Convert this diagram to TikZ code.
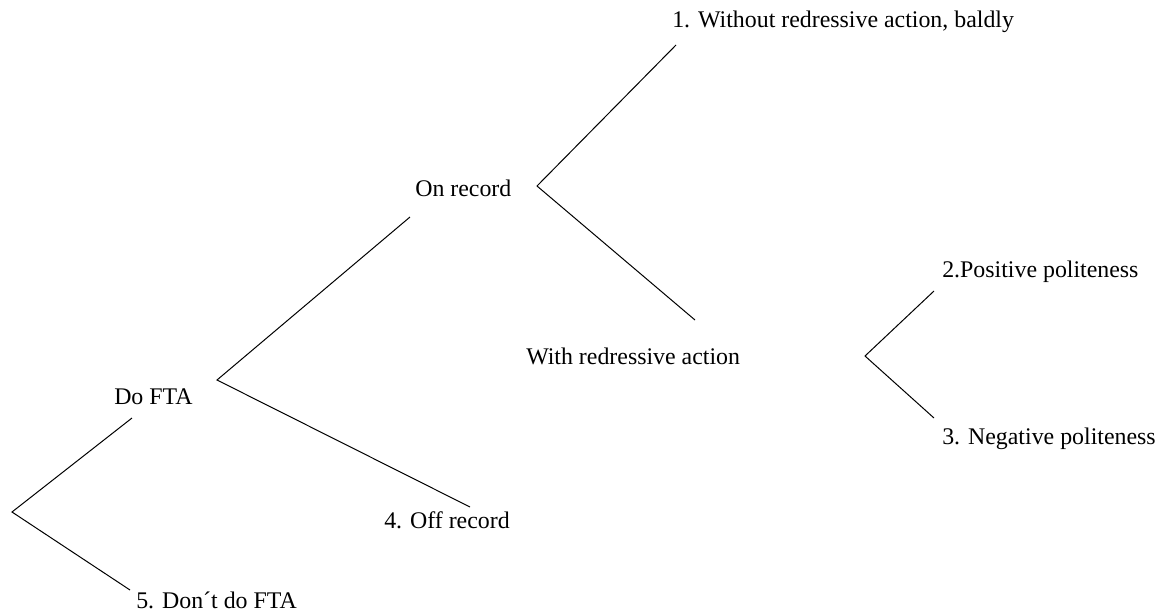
\documentclass[tikz,border=0pt]{standalone}
\usepackage{fontspec}
\setmainfont{Liberation Serif}
\begin{document}
\begin{tikzpicture}[x=0.75pt,y=-0.75pt,
  lbl/.style={anchor=west,inner sep=0pt,font=\fontsize{17.9}{20}\selectfont},
  branch/.style={draw=black,line width=0.75pt}]
\useasboundingbox (0,0) rectangle (1160,615);
% labels
\node[lbl] (n1) at (672,22) {1. Without redressive action, baldly};
\node[lbl] (onr) at (415,188) {On record};
\node[lbl] (n2) at (942,272) {2.Positive politeness};
\node[lbl] (wra) at (526,356) {With redressive action};
\node[lbl] (n3) at (942,439) {3. Negative politeness};
\node[lbl] (dofta) at (114,397) {Do FTA};
\node[lbl] (n4) at (384,520) {4. Off record};
\node[lbl] (n5) at (136,600) {5. Don´t do FTA};
% fork points
\coordinate (v0) at (12,512);
\coordinate (v0a) at (132,418);
\coordinate (v0b) at (130,590);
\coordinate (v1) at (217,380);
\coordinate (v1a) at (410,217);
\coordinate (v1b) at (470,507);
\coordinate (v2) at (537,186);
\coordinate (v2a) at (676,45);
\coordinate (v2b) at (695,320);
\coordinate (v3) at (865,356);
\coordinate (v3a) at (934,291);
\coordinate (v3b) at (934,418);
% branches
\draw[branch] (v0a) -- (v0) -- (v0b);
\draw[branch] (v1a) -- (v1) -- (v1b);
\draw[branch] (v2a) -- (v2) -- (v2b);
\draw[branch] (v3a) -- (v3) -- (v3b);
\end{tikzpicture}
\end{document}
